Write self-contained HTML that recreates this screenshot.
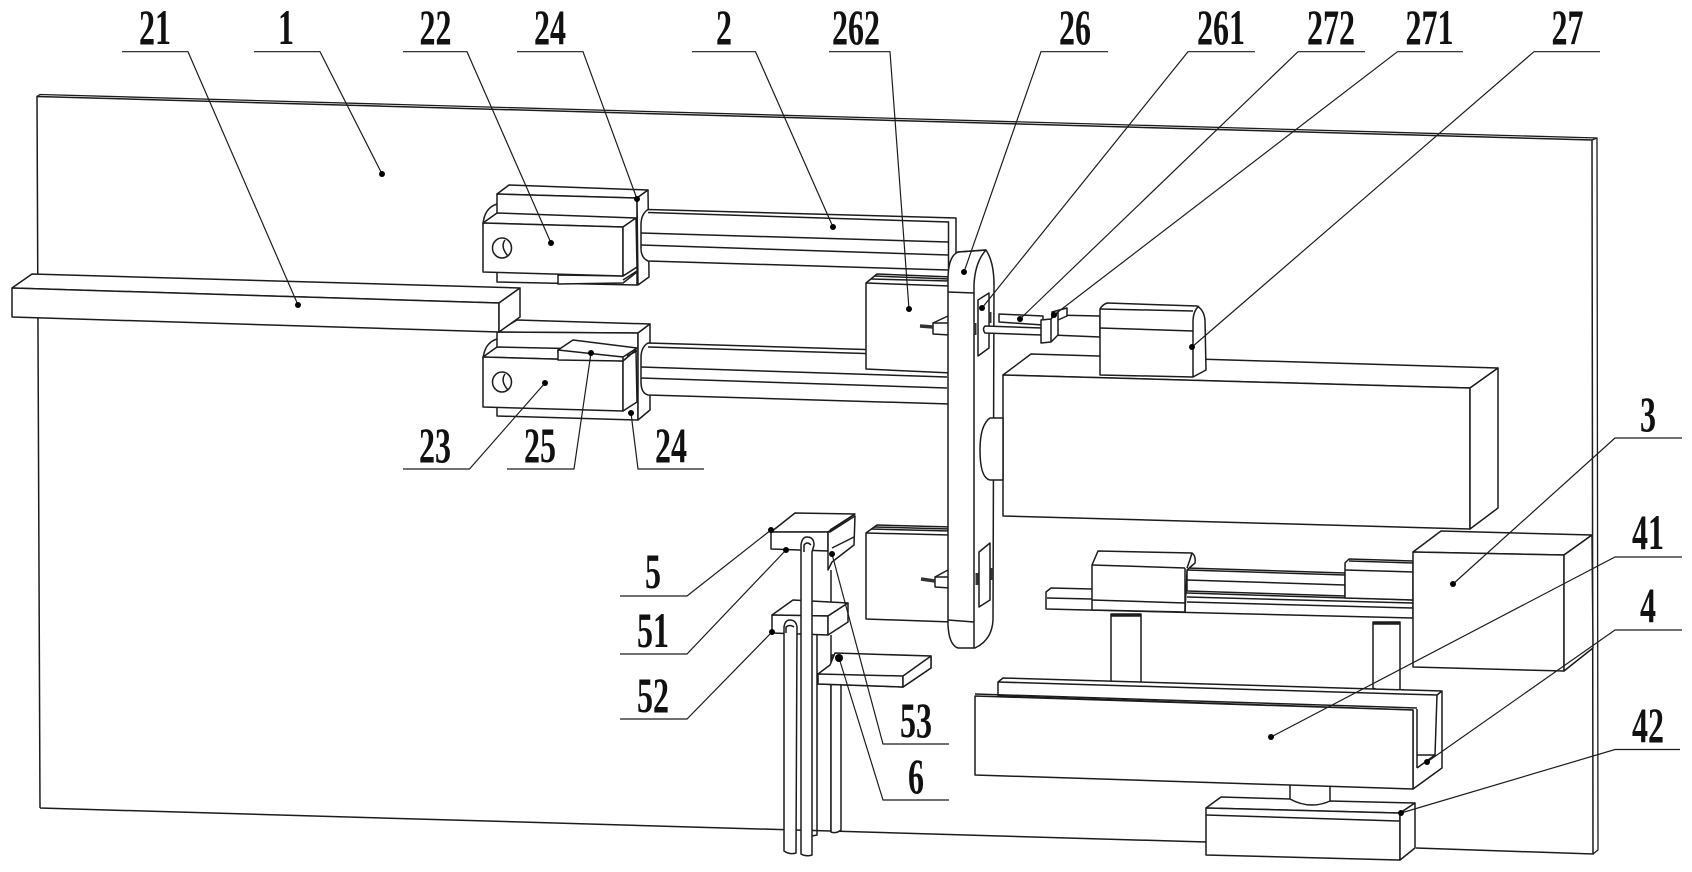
<!DOCTYPE html>
<html><head><meta charset="utf-8"><style>
html,body{margin:0;padding:0;background:#fff}
svg{display:block}
.s *{fill:#fff;stroke:#1c1c1c;stroke-width:1.5;stroke-linejoin:round}
.l *{fill:none;stroke:#1c1c1c;stroke-width:1.5}
.t line,.t polyline{fill:none;stroke:#1c1c1c;stroke-width:1.2}
.d circle{fill:#000;stroke:none}
.n text{font-family:"Liberation Serif",serif;font-size:50px;font-weight:bold;fill:#111;text-anchor:middle}
</style></head><body>
<svg width="1692" height="872" viewBox="0 0 1692 872" xmlns="http://www.w3.org/2000/svg">
<rect width="1692" height="872" fill="#fff"/>

<!-- backboard -->
<g class="l">
<path d="M40,808L37,96.5L1592,140L1593,854L1416,848M1206,842L40,808"/>
<path d="M37,96.5L40,94.5L1597,138L1598,850L1593,854M1592,140L1597,138" style="stroke-width:1.3"/>
</g>

<!-- upper carriage -->
<g class="s">
<path d="M483,225Q484,208 497,204L510,204L510,225Z"/>
<polygon points="497,194 509,185 648,190 637,198"/>
<polygon points="497,194 637,198 637,285 497,282"/>
<polygon points="648,190 649,277 638,285 637,198"/>
<polygon points="558,275 623,276 637,267 637,272 623,283 558,284"/>
<polygon points="483,223 497,213 636,218 623,227"/>
<polygon points="483,223 623,227 623,276 483,272"/>
<polygon points="636,218 637,267 623,276 623,227"/>
<ellipse cx="502" cy="248" rx="9.5" ry="10"/>
</g>
<g class="l"><path d="M505,240Q500,247 508,256M623,280L637,271"/></g>

<!-- lower carriage -->
<g class="s">
<path d="M483,360Q484,343 497,339L510,339L510,355Z"/>
<polygon points="497,332 517,320 650,324 638,333"/>
<polygon points="497,332 638,333 638,420 497,416"/>
<polygon points="650,324 650,410 638,420 638,333"/>
<polygon points="483,357 497,347 636,350 623,361"/>
<polygon points="483,357 623,361 623,411 483,407"/>
<polygon points="636,350 637,402 623,411 623,361"/>
<polygon points="558,350 573,340 637,348 623,357 558,353"/>
<polygon points="558,350 623,357 623,361 558,360"/>
<ellipse cx="502" cy="382" rx="9.5" ry="10"/>
</g>
<g class="l"><path d="M505,374Q500,381 508,390M627,356L637,351"/></g>

<!-- upper rail -->
<g class="s"><path d="M648,209.5L956,218L956,270L948,270L648,261Q641,258 641,248L641,225Q641,214 648,209.5Z"/></g>
<g class="l"><path d="M648,212.5L948.5,222L948.5,269M641,233L948,242M641,245L948,255"/></g>
<!-- lower rail -->
<g class="s"><path d="M648,343L950,352L950,404L648,395Q641,393 641,382L641,358Q641,347 648,343Z"/></g>
<g class="l"><path d="M648,347L950,356M641,367L947,377M641,378L947,388"/></g>

<!-- strip 21 -->
<g class="s">
<polygon points="12,288 32,274 520,288 499,303"/>
<polygon points="12,288 499,303 499,332 12,317"/>
<polygon points="499,303 520,288 520,317 499,332"/>
</g>

<!-- block 262 -->
<g class="s"><polygon points="866,283 877,274 952,277 952,373 866,369"/></g>
<g class="l"><path d="M871,279L950,281M874,276L950,279M866,283L950,286"/></g>
<g class="s"><polygon points="933,323 950,323 950,335 933,334"/></g>
<g class="l"><path d="M933,323L948,316"/><path d="M920,326L933,327" style="stroke-width:3.5;stroke:#333"/></g>
<!-- lower block -->
<g class="s"><polygon points="866,533 877,525 952,527 952,622 866,619"/></g>
<g class="l"><path d="M871,529L950,531M874,527L950,529M866,533L950,535"/></g>
<g class="s"><polygon points="935,577 950,577 950,588 935,587"/></g>
<g class="l"><path d="M935,577L948,570"/><path d="M921,579L935,581" style="stroke-width:3.5;stroke:#333"/></g>

<!-- big housing -->
<g class="s">
<polygon points="1003,375 1031,354 1498,368 1470,388"/>
<polygon points="1003,375 1470,388 1470,529 1003,516"/>
<polygon points="1498,368 1498,508 1470,529 1470,388"/>
</g>

<!-- arm 26 -->
<g class="s"><path d="M948,620L948,280Q948,256 958,252L986,250Q994,262 994,285L993,620Q992,640 975,648L958,648Q949,645 948,625Z"/></g>
<g class="l">
<path d="M948,292L974,293M958,252L986,250M974,648L974,285Q975,262 986,250M948,620L974,622"/>
</g>
<g class="s">
<polygon points="978,300 989,293 989,348 978,356"/>
<polygon points="979,552 990,543 990,600 979,607"/>
<path d="M1003,418L990,418Q980,425 980,450Q980,478 990,480L1003,480Z"/>
</g>
<g class="l">
<path d="M975,323L975,335M990,312L990,323M977,573L977,585M992,568L992,580" style="stroke-width:3;stroke:#333"/>
</g>

<!-- shaft, cylinder, clamp, motor -->
<g class="s">
<polygon points="999,314 1043,316 1043,325 999,322"/>
<polygon points="1052,315 1100,316 1100,337 1052,335"/>
<path d="M985,326L1042,328L1042,335L985,333Q982,329 985,326Z"/>
<polygon points="1052,312 1067,308 1067,316 1058,320 1052,320"/>
<polygon points="1041,320 1051,319 1058,312 1058,335 1051,342 1041,343"/>
<path d="M1100,375L1100,309Q1102,305 1107,303L1197,306Q1204,310 1205,320L1206,370L1193,377Z"/>
</g>
<g class="l"><path d="M1051,319V342M1100,328L1193,331M1193,377V322Q1193,311 1199,306M1100,309L1193,311"/></g>

<!-- linear slide -->
<g class="s">
<polygon points="1187,568 1345,573 1345,596 1187,591"/>
<polygon points="1046,592 1051,588 1092,589 1187,593 1413,600 1413,618 1046,609"/>
<polygon points="1345,563 1349,559 1413,561 1413,600 1345,598"/>
</g>
<g class="l">
<path d="M1187,580L1345,585M1345,570L1413,572M1047,598L1092,599M1187,597L1413,603M1187,602L1413,608M1187,570L1345,575M1349,561L1413,563"/>
</g>
<g class="s"><path d="M1092,610L1092,565L1098,551L1192,553Q1196,556 1195,563L1187,570L1185,612Z"/></g>
<g class="l"><path d="M1092,565L1185,568M1092,600L1185,603M1185,568V612M1187,568Q1190,560 1192,553"/></g>

<!-- block 3 -->
<g class="s">
<polygon points="1413,552 1441,531 1592,535 1564,555"/>
<polygon points="1413,552 1564,555 1564,671 1413,667"/>
<polygon points="1592,535 1593,648 1564,671 1564,555"/>
</g>

<!-- columns -->
<g class="s">
<path d="M1111,614L1141,614L1141,682Q1126,688 1111,682Z"/>
<path d="M1373,622L1400,622L1400,690Q1386,694 1373,688Z"/>
</g>
<g class="l"><path d="M1111,615.5L1141,615.5M1373,623.5L1400,623.5" style="stroke-width:2.5"/></g>

<!-- pillar lower -->
<g class="s"><path d="M1290,780L1330,780L1330,805Q1310,812 1290,805Z"/></g>

<!-- trough 4 -->
<g class="s">
<polygon points="998,682 1003,678 1442,691 1442,768 1413,789 1413,710 998,696"/>
</g>
<g class="l"><path d="M998,682L1437,695L1435,755L1417,755M1417,768L1435,755M1442,691L1437,695M1417,709V768"/></g>
<g class="s"><polygon points="975,696 1413,710 1413,789 975,775"/></g>
<g class="l"><path d="M975,694L1417,708"/></g>

<!-- base 42 -->
<g class="s">
<path d="M1206,808L1221,797L1290,799Q1310,810 1330,801L1415,803L1400,813Z"/>
<polygon points="1206,808 1400,813 1400,860 1206,855"/>
<polygon points="1415,803 1415,848 1400,860 1400,813"/>
</g>
<g class="l"><path d="M1206,815L1400,821"/></g>

<!-- group 5 / 6 verticals -->
<g class="l">
<path d="M831,570V602M817,635V835L812,836M831,635V832"/>
</g>
<g class="s">
<path d="M831,683L841,683L841,830Q836,834 831,832Z"/>
<polygon points="832,655 845,655 845,668 832,668"/>
<polygon points="830,665 835,653 931,656 931,668 903,687 818,684 818,674"/>
<polygon points="818,674 903,676 903,687 818,684"/>
<polygon points="903,676 931,656 931,668 903,687"/>
</g>
<g class="s">
<polygon points="771,532 795,513 855,514 828,532"/>
<polygon points="771,532 828,532 828,551 771,549"/>
<polygon points="830,532 855,516 854,545 832,562 828,570 828,532"/>
</g>
<g class="l"><path d="M832,548L854,537M830,530L855,514"/></g>
<g class="s">
<polygon points="772,615 793,600 848,603 828,616"/>
<polygon points="772,615 828,616 828,635 772,633"/>
<polygon points="848,603 848,622 828,635 828,616"/>
</g>
<g class="s">
<path d="M784,851L784,627Q785,620 790,620Q796,620 797,627L796,853Q790,855 784,851Z"/>
<path d="M801,854L801,545Q802,537 807,537Q814,537 814,545L812,552L812,855Q806,857 801,854Z"/>
</g>
<g class="l"><path d="M786,633L786,627Q790,624 794,627M804,552L804,545Q807,541 811,545"/></g>

<!-- leaders -->
<g class="t">
<polyline points="122,51.7 188,51.7 298,305"/>
<polyline points="254,51.7 320,51.7 382,174"/>
<polyline points="403,51.7 467,51.7 551,243"/>
<polyline points="517,51.7 583,51.7 637,199"/>
<polyline points="692,51.7 755.5,51.7 833,227"/>
<polyline points="829,51.7 890,51.7 909,309"/>
<polyline points="1108,51.7 1041,51.7 964,272"/>
<polyline points="1255,51.7 1188,51.7 982,308"/>
<polyline points="1365,51.7 1298,51.7 1020,319"/>
<polyline points="1463,51.7 1397.5,51.7 1054,315"/>
<polyline points="1600,51.7 1534,51.7 1192,347"/>
<polyline points="1682,438 1615,438 1453,584"/>
<polyline points="1682,557 1615,557 1271,737"/>
<polyline points="1682,630 1615,630 1427,762"/>
<polyline points="1680,749.5 1615,749.5 1401,813"/>
<polyline points="403,469 469.5,469 545,383"/>
<polyline points="507,469 574,469 591,353"/>
<polyline points="704,469 638,469 631,413"/>
<polyline points="620,596 687,596 771,530"/>
<polyline points="620,654 687,654 786,550"/>
<polyline points="620,719 687,719 772,632"/>
<polyline points="949,744 883,744 832,554"/>
<polyline points="949,800 883,800 839,658"/>
</g>
<g class="d">
<circle cx="298" cy="305" r="3"/><circle cx="382" cy="174" r="3"/><circle cx="551" cy="243" r="3"/><circle cx="637" cy="199" r="3"/><circle cx="833" cy="227" r="3"/><circle cx="909" cy="309" r="3"/><circle cx="964" cy="272" r="3"/><circle cx="982" cy="308" r="3"/><circle cx="1020" cy="319" r="3"/><circle cx="1054" cy="315" r="3"/><circle cx="1192" cy="347" r="3"/><circle cx="1453" cy="584" r="3"/><circle cx="1271" cy="737" r="3"/><circle cx="1427" cy="762" r="3"/><circle cx="1401" cy="813" r="3"/><circle cx="545" cy="383" r="3"/><circle cx="591" cy="353" r="3"/><circle cx="631" cy="413" r="3"/><circle cx="771" cy="530" r="3"/><circle cx="786" cy="550" r="3"/><circle cx="772" cy="632" r="3"/><circle cx="832" cy="554" r="3"/><circle cx="839" cy="658" r="4"/>
</g>

<!-- labels -->
<g class="n">
<text transform="translate(155,44) scale(.64,1)">21</text>
<text transform="translate(286,44) scale(.64,1)">1</text>
<text transform="translate(435.5,44) scale(.64,1)">22</text>
<text transform="translate(550,44) scale(.64,1)">24</text>
<text transform="translate(724,44) scale(.64,1)">2</text>
<text transform="translate(856,44) scale(.64,1)">262</text>
<text transform="translate(1075,44) scale(.64,1)">26</text>
<text transform="translate(1221,44) scale(.64,1)">261</text>
<text transform="translate(1331,44) scale(.64,1)">272</text>
<text transform="translate(1429.5,44) scale(.64,1)">271</text>
<text transform="translate(1567.5,44) scale(.64,1)">27</text>
<text transform="translate(1648,431) scale(.64,1)">3</text>
<text transform="translate(1648,549) scale(.64,1)">41</text>
<text transform="translate(1648,622) scale(.64,1)">4</text>
<text transform="translate(1648,742) scale(.64,1)">42</text>
<text transform="translate(435,462) scale(.64,1)">23</text>
<text transform="translate(540,462) scale(.64,1)">25</text>
<text transform="translate(671,462) scale(.64,1)">24</text>
<text transform="translate(653,588) scale(.64,1)">5</text>
<text transform="translate(653,647) scale(.64,1)">51</text>
<text transform="translate(653,712) scale(.64,1)">52</text>
<text transform="translate(916,737) scale(.64,1)">53</text>
<text transform="translate(916,793) scale(.64,1)">6</text>
</g>
</svg>
</body></html>
